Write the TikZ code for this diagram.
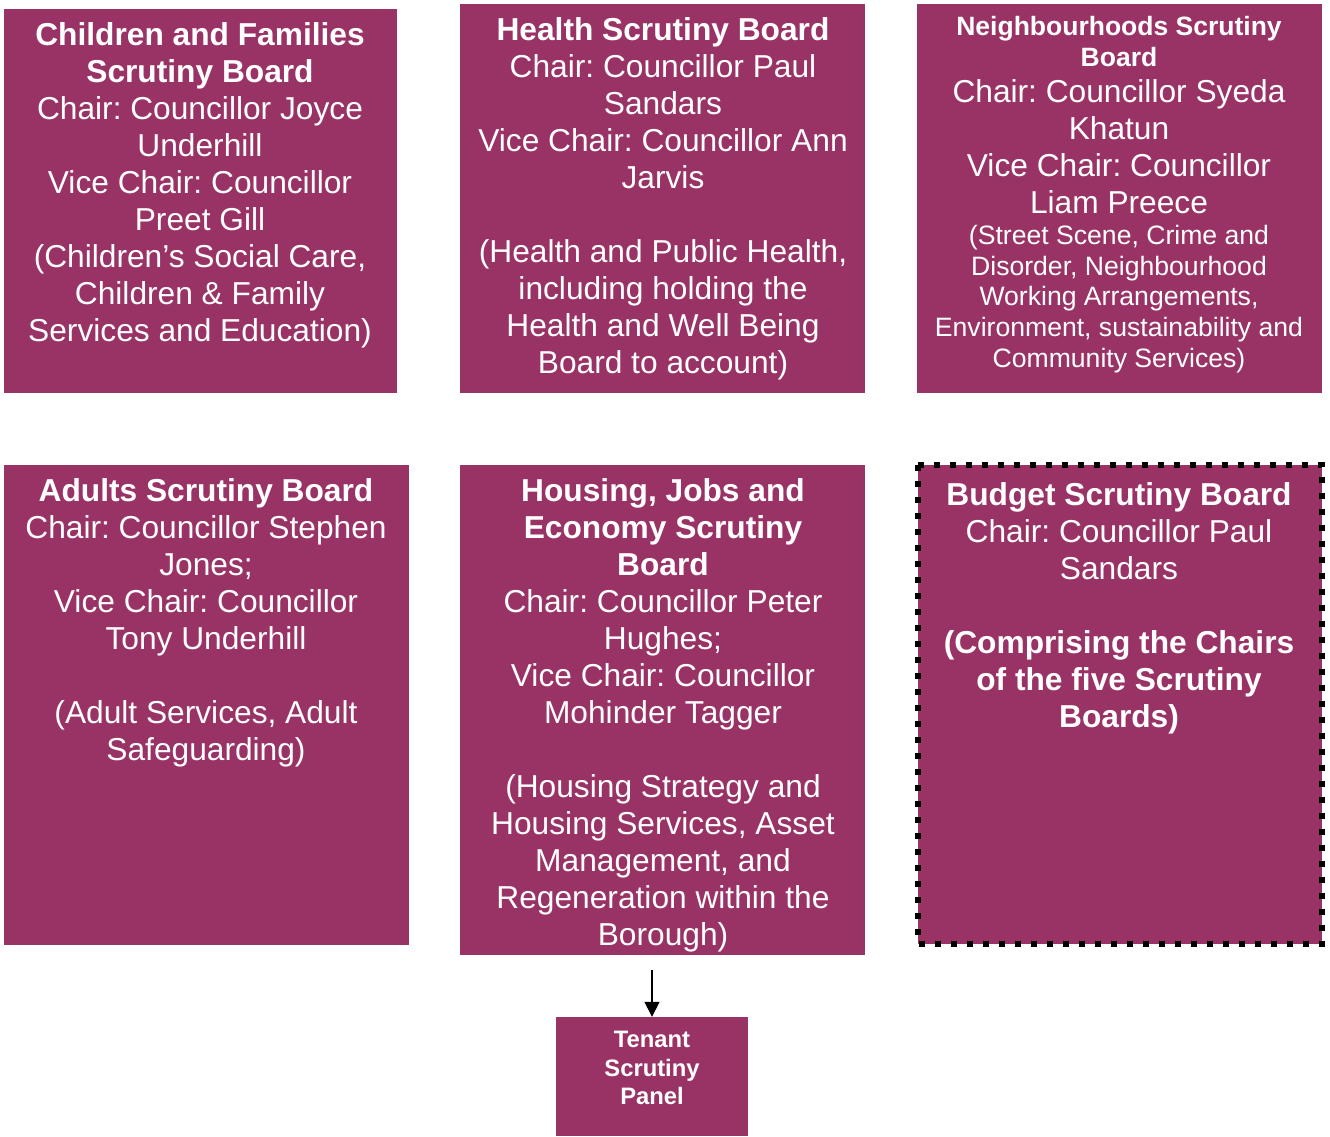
\documentclass[tikz,border=0pt]{standalone}
\usepackage{fontspec}
\setmainfont{Liberation Sans}
\usetikzlibrary{arrows.meta}
\definecolor{plum}{RGB}{153,51,102}
\frenchspacing
\tikzset{
  board/.style={fill=plum, draw=none},
  budgetboard/.style={fill=plum, draw=black, line width=6pt, dash pattern=on 6pt off 10pt},
  btext/.style={text=white, align=center, inner sep=0pt, anchor=north, font=\fontsize{31.7}{37}\selectfont},
  smalltext/.style={text=white, align=center, inner sep=0pt, anchor=north, font=\fontsize{26.6}{30.7}\selectfont},
  tenanttext/.style={text=white, align=center, inner sep=0pt, anchor=north, font=\fontsize{23.8}{28.5}\selectfont\bfseries},
  link/.style={-{Triangle[length=15pt,width=15pt]}, line width=1.5pt}
}
\begin{document}
\begin{tikzpicture}[x=1pt,y=-1pt]
\useasboundingbox (0,0) rectangle (1330,1137);
% boxes
\path[board] (4,9) rectangle (397,393);
\path[board] (460,4) rectangle (865,393);
\path[board] (917,4) rectangle (1322,393);
\path[board] (4,465) rectangle (409,945);
\path[board] (460,465) rectangle (865,955);
\path[budgetboard] (918,465) rectangle (1322,944);
\node[board, minimum width=192pt, minimum height=119pt, inner sep=0pt] (tenant) at (652,1076.5) {};
% texts
\node[btext] (cf) at (200,22.5) {\textbf{Children and Families}\\\textbf{Scrutiny Board}\\Chair: Councillor Joyce\\Underhill\\Vice Chair: Councillor\\Preet Gill\\(Children’s Social Care,\\Children \& Family\\Services and Education)};
\node[btext] (hs) at (663,17.5) {\textbf{Health Scrutiny Board}\\Chair: Councillor Paul\\Sandars\\Vice Chair: Councillor Ann\\Jarvis\\[37pt](Health and Public Health,\\including holding the\\Health and Well Being\\Board to account)};
\node[smalltext, font=\fontsize{26.5}{31}\selectfont\bfseries] (ns) at (1119,16) {Neighbourhoods Scrutiny\\Board};
\node[btext] (nschair) at (1119,79.5) {Chair: Councillor Syeda\\Khatun\\Vice Chair: Councillor\\Liam Preece};
\node[smalltext] (nsremit) at (1119,225) {(Street Scene, Crime and\\Disorder, Neighbourhood\\Working Arrangements,\\Environment, sustainability and\\Community Services)};
\node[btext] (ad) at (206,478.5) {\textbf{Adults Scrutiny Board}\\Chair: Councillor Stephen\\Jones;\\Vice Chair: Councillor\\Tony Underhill\\[37pt](Adult Services, Adult\\Safeguarding)};
\node[btext] (hj) at (663,478.5) {\textbf{Housing, Jobs and}\\\textbf{Economy Scrutiny}\\\textbf{Board}\\Chair: Councillor Peter\\Hughes;\\Vice Chair: Councillor\\Mohinder Tagger\\[37pt](Housing Strategy and\\Housing Services, Asset\\Management, and\\Regeneration within the\\Borough)};
\node[btext] (bs) at (1119,482.5) {\textbf{Budget Scrutiny Board}\\Chair: Councillor Paul\\Sandars\\[37pt]\textbf{(Comprising the Chairs}\\\textbf{of the five Scrutiny}\\\textbf{Boards)}};
\node[tenanttext] (tt) at (652,1031) {Tenant\\Scrutiny\\Panel};
% arrow
\coordinate (arrowstart) at (652,970);
\draw[link] (arrowstart) -- (tenant.north);
\end{tikzpicture}
\end{document}
